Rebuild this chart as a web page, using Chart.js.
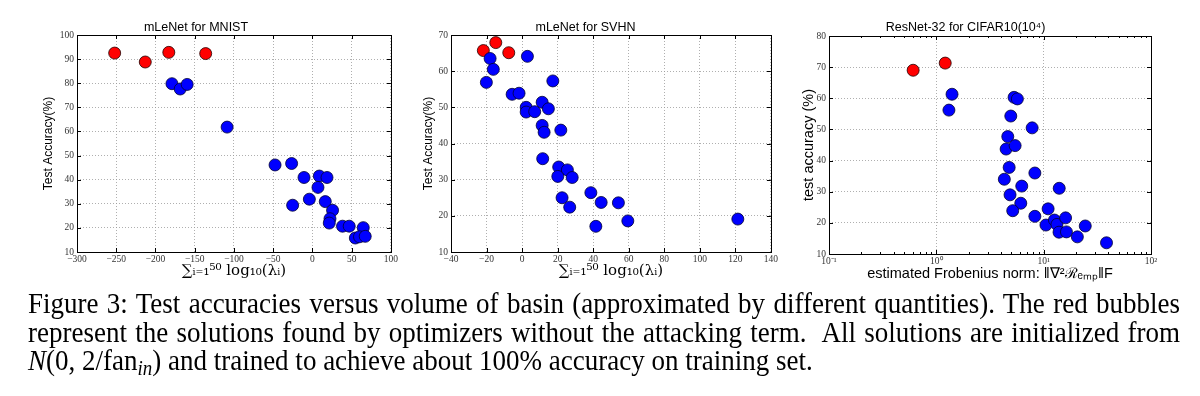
<!DOCTYPE html>
<html lang="en">
<head>
    <meta charset="UTF-8">
    <title>Figure 3</title>
    <script src="https://cdn.jsdelivr.net/npm/chart.js"></script>
    <style>
        body { margin: 0; background: #fff; width: 1200px; height: 396px; position: relative; overflow: hidden; }
        .plot { position: absolute; top: 0; }
        #caption {
            position: absolute; left: 28px; top: 290.3px; width: 1152px;
            font-family: 'Liberation Serif', 'Times New Roman', serif; font-size: 27px; line-height: 25.9px;
            color: #000; transform: scaleY(1.1); transform-origin: 0 0;
        }
        #caption .j { text-align: justify; text-align-last: justify; }
        #caption sub { font-size: 0.7em; line-height: 0; vertical-align: -0.25em; }
    </style>
</head>
<body>
    <canvas id="c1" class="plot" width="400" height="290" style="left:0"></canvas>
    <canvas id="c2" class="plot" width="380" height="290" style="left:400px"></canvas>
    <canvas id="c3" class="plot" width="420" height="290" style="left:780px"></canvas>

    <div id="caption">
        <div class="j">Figure 3: Test accuracies versus volume of basin (approximated by different quantities). The red bubbles</div>
        <div class="j">represent the solutions found by optimizers without the attacking term.&nbsp; All solutions are initialized from</div>
        <div><i>N</i>(0, 2/fan<sub><i>in</i></sub>) and trained to achieve about 100% accuracy on training set.</div>
    </div>

    <script>
        // data
        const mnistRedX = [-252, -213, -183, -136];
        const mnistRedY = [92.5, 88.8, 92.8, 92.3];
        const mnistBlueX = [-179, -168.5, -159.6, -108.7, -47.6, -26.5, -10.7, 8.8, 18.6, 7.1, -3.9, -25.2, 16.4, 25.7, 22.4, 21.5, 38.4, 46.9, 64.8, 54.7, 60, 67.3];
        const mnistBlueY = [79.8, 77.6, 79.5, 61.8, 46.1, 46.7, 40.9, 41.5, 40.9, 36.8, 31.9, 29.4, 30.9, 27.3, 23.8, 22.0, 20.7, 20.7, 20.1, 15.8, 16.3, 16.5];

        const svhnRedX = [-21.8, -14.8, -7.5];
        const svhnRedY = [65.7, 67.9, 65.1];
        const svhnBlueX = [-18.0, -16.2, -20.1, 3.0, 17.3, -5.6, -1.7, 2.3, 2.3, 7.1, 11.3, 14.8, 11.3, 12.4, 21.8, 11.6, 20.6, 25.5, 20.1, 28.2, 38.7, 22.5, 44.5, 26.8, 54.2, 41.5, 59.5, 121.4];
        const svhnBlueY = [63.5, 60.5, 56.9, 64.1, 57.3, 53.6, 53.9, 50.0, 48.7, 48.8, 51.4, 49.6, 45.0, 43.1, 43.7, 35.8, 33.5, 32.7, 30.9, 30.6, 26.4, 25.0, 23.7, 22.4, 23.6, 17.1, 18.6, 19.1];

        const cifarRedX = [0.608, 1.21];
        const cifarRedY = [69.0, 71.3];
        const cifarBlueX = [1.40, 1.31, 5.30, 5.69, 4.94, 7.81, 4.63, 4.47, 5.42, 4.77, 8.28, 4.30, 6.25, 13.96, 4.86, 6.12, 5.15, 11.0, 8.28, 10.5, 12.6, 13.3, 16.0, 13.9, 16.3, 24.4, 20.6, 38.5];
        const cifarBlueY = [61.3, 56.2, 60.3, 59.8, 54.3, 50.5, 47.7, 43.7, 44.8, 37.8, 36.0, 34.0, 31.8, 31.1, 29.0, 26.3, 23.9, 24.5, 22.1, 19.3, 20.9, 19.5, 21.6, 17.0, 17.1, 19.0, 15.5, 13.6];

        const logTicks = [0.1, 1, 10, 100];
        const logTickLabels = ['10\u207B\u00B9', '10\u2070', '10\u00B9', '10\u00B2'];
        const logMinor = [0.2, 0.3, 0.4, 0.5, 0.6, 0.7, 0.8, 0.9, 2, 3, 4, 5, 6, 7, 8, 9, 20, 30, 40, 50, 60, 70, 80, 90];

        const pts = (xs, ys) => xs.map((x, i) => ({ x: x, y: ys[i] }));
        const sans = "'Liberation Sans', Arial, sans-serif";
        const serif = "'Liberation Serif', 'Times New Roman', serif";

        // black box round the plot plus matplotlib style inward ticks
        const frame = {
            id: 'frame',
            afterDraw(chart, args, opts) {
                const { ctx, chartArea: a } = chart;
                const xs = chart.scales.x, ys = chart.scales.y;
                ctx.save();
                ctx.strokeStyle = '#000';
                ctx.lineWidth = 1;
                ctx.beginPath();
                xs.ticks.forEach(t => {
                    const p = Math.round(xs.getPixelForValue(t.value)) + 0.5;
                    ctx.moveTo(p, a.bottom); ctx.lineTo(p, a.bottom - 4);
                    ctx.moveTo(p, a.top); ctx.lineTo(p, a.top + 4);
                });
                (opts.minor || []).forEach(v => {
                    const p = Math.round(xs.getPixelForValue(v)) + 0.5;
                    ctx.moveTo(p, a.bottom); ctx.lineTo(p, a.bottom - 2);
                    ctx.moveTo(p, a.top); ctx.lineTo(p, a.top + 2);
                });
                ys.ticks.forEach(t => {
                    const p = Math.round(ys.getPixelForValue(t.value)) + 0.5;
                    ctx.moveTo(a.left, p); ctx.lineTo(a.left + 4, p);
                    ctx.moveTo(a.right, p); ctx.lineTo(a.right - 4, p);
                });
                ctx.stroke();
                ctx.strokeRect(Math.round(a.left) + 0.5, Math.round(a.top) + 0.5, Math.round(a.right - a.left), Math.round(a.bottom - a.top));
                ctx.restore();
            }
        };

        function makeChart(id, cfg) {
            const red = {
                data: pts(cfg.redX, cfg.redY),
                backgroundColor: '#ff0000', borderColor: '#220000', borderWidth: 0.8, pointRadius: 6
            };
            const blue = {
                data: pts(cfg.blueX, cfg.blueY),
                backgroundColor: '#0000ff', borderColor: '#000033', borderWidth: 0.8, pointRadius: 6
            };
            const gridOpts = { color: '#9a9a9a', lineWidth: 0.8, drawTicks: false };
            const tickFont = { family: serif, size: 9.5 };
            return new Chart(document.getElementById(id), {
                type: 'scatter',
                data: { datasets: [blue, red] },
                plugins: [frame],
                options: {
                    responsive: false,
                    animation: false,
                    events: [],
                    devicePixelRatio: 1,
                    layout: { padding: { left: 0, right: cfg.padRight, top: 0, bottom: 0 } },
                    plugins: {
                        legend: { display: false },
                        tooltip: { enabled: false },
                        title: {
                            display: true, text: cfg.title, color: '#000',
                            font: { family: sans, size: 12.5, weight: 'normal' },
                            padding: { top: 20.5, bottom: cfg.titleGap }
                        },
                        frame: { minor: cfg.minor }
                    },
                    scales: {
                        x: {
                            type: cfg.xType, min: cfg.xMin, max: cfg.xMax,
                            grid: gridOpts,
                            border: { display: false, dash: [1, 2] },
                            afterBuildTicks: cfg.xTicks ? (s) => { s.ticks = cfg.xTicks.map(v => ({ value: v })); } : undefined,
                            afterFit: (s) => { s.height = cfg.xHeight; },
                            ticks: {
                                stepSize: cfg.xStep, color: '#333', font: tickFont, padding: 2,
                                maxRotation: 0, autoSkip: false,
                                callback: cfg.xLabel || ((v) => String(v).replace('-', '\u2212'))
                            },
                            title: {
                                display: true, text: cfg.xTitle, color: '#000',
                                font: cfg.xTitleFont, padding: { top: 0, bottom: cfg.xTitlePad }
                            }
                        },
                        y: {
                            min: cfg.yMin, max: cfg.yMax,
                            grid: gridOpts,
                            border: { display: false, dash: [1, 2] },
                            afterFit: (s) => { s.width = cfg.yWidth; },
                            ticks: { stepSize: 10, color: '#333', font: tickFont, padding: 3 },
                            title: {
                                display: true, text: cfg.yTitle, color: '#000',
                                font: { family: sans, size: cfg.yTitleSize },
                                padding: { top: cfg.yTitlePad, bottom: 0 }
                            }
                        }
                    }
                }
            });
        }

        const sumLabel = '\u2211\u1D62\u208C\u2081\u2075\u2070 log\u2081\u2080(\u03BB\u1D62)';

        makeChart('c1', {
            redX: mnistRedX, redY: mnistRedY, blueX: mnistBlueX, blueY: mnistBlueY,
            title: 'mLeNet for MNIST', titleGap: -0.5, padRight: 8,
            xType: 'linear', xMin: -300, xMax: 100, xStep: 50, xHeight: 38,
            xTitle: sumLabel, xTitleFont: { family: "'DejaVu Serif', serif", size: 15 }, xTitlePad: 10,
            yMin: 10, yMax: 100, yWidth: 77, yTitle: 'Test Accuracy(%)', yTitleSize: 12, yTitlePad: 41.8
        });

        makeChart('c2', {
            redX: svhnRedX, redY: svhnRedY, blueX: svhnBlueX, blueY: svhnBlueY,
            title: 'mLeNet for SVHN', titleGap: -0.5, padRight: 9,
            xType: 'linear', xMin: -40, xMax: 140, xStep: 20, xHeight: 38,
            xTitle: sumLabel, xTitleFont: { family: "'DejaVu Serif', serif", size: 15 }, xTitlePad: 10,
            yMin: 10, yMax: 70, yWidth: 51, yTitle: 'Test Accuracy(%)', yTitleSize: 12, yTitlePad: 21.8
        });

        makeChart('c3', {
            redX: cifarRedX, redY: cifarRedY, blueX: cifarBlueX, blueY: cifarBlueY,
            title: 'ResNet-32 for CIFAR10(10\u2074)', titleGap: 0.5, padRight: 49,
            xType: 'logarithmic', xMin: 0.1, xMax: 100, xHeight: 36, xTicks: logTicks, minor: logMinor,
            xLabel: (v) => logTickLabels[logTicks.indexOf(v)] || '',
            xTitle: 'estimated Frobenius norm: \u2016\u2207\u00B2\u211B\u2091\u2098\u209A\u2016F',
            xTitleFont: { family: sans, size: 14.5 }, xTitlePad: 7.3,
            yMin: 10, yMax: 80, yWidth: 49, yTitle: 'test accuracy (%)', yTitleSize: 14.5, yTitlePad: 20.3
        });
    </script>
</body>
</html>
